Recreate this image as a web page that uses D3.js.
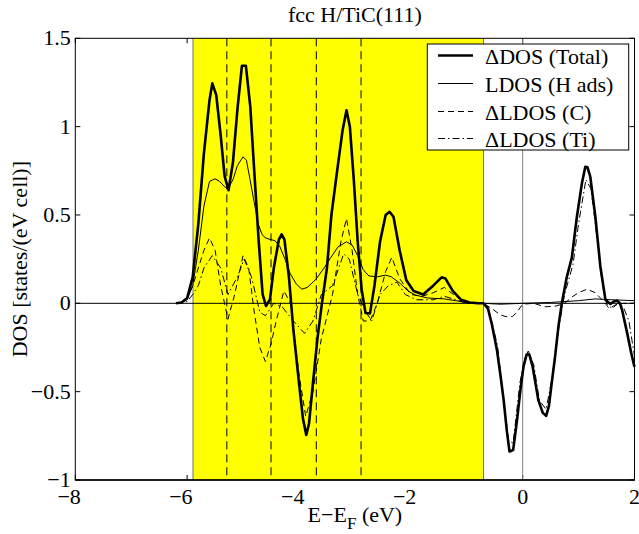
<!DOCTYPE html>
<html>
<head>
<meta charset="utf-8">
<script src="https://cdn.jsdelivr.net/npm/d3@7"></script>
<style>
  html, body { margin: 0; padding: 0; background: #fff; }
  svg text { font-family: "Liberation Serif", "Times New Roman", serif; fill: #000; }
</style>
</head>
<body>
<svg id="chart" width="639" height="534"></svg>
<script>
// ---------------- data ----------------
const title = "fcc H/TiC(111)";
const xTicks = [-8, -6, -4, -2, 0, 2];
const yTicks = [-1, -0.5, 0, 0.5, 1, 1.5];
const xTickLabels = ["\u22128", "\u22126", "\u22124", "\u22122", "0", "2"];
const yTickLabels = ["\u22121", "\u22120.5", "0", "0.5", "1", "1.5"];
const bandRange = [-5.895, -0.70];           // yellow region (eV)
const peakLines = [-5.29, -4.50, -3.69, -2.89]; // dashed vertical markers
const legendLabels = ["\u0394DOS (Total)", "LDOS (H ads)", "\u0394LDOS (C)", "\u0394LDOS (Ti)"];

const totalE = [-6.2,-6.1,-6.0,-5.9,-5.8,-5.7,-5.6,-5.55,-5.48,-5.4,-5.33,-5.26,-5.18,-5.1,-5.02,-4.95,-4.87,-4.8,-4.72,-4.65,-4.59,-4.52,-4.45,-4.36,-4.31,-4.26,-4.18,-4.1,-4.0,-3.93,-3.87,-3.82,-3.75,-3.67,-3.59,-3.5,-3.42,-3.33,-3.22,-3.15,-3.09,-3.02,-2.95,-2.88,-2.81,-2.73,-2.65,-2.55,-2.45,-2.38,-2.31,-2.2,-2.08,-1.95,-1.78,-1.6,-1.45,-1.38,-1.25,-1.1,-0.95,-0.8,-0.7,-0.62,-0.55,-0.46,-0.4,-0.34,-0.28,-0.235,-0.17,-0.1,-0.04,0.015,0.07,0.12,0.18,0.28,0.36,0.42,0.47,0.52,0.58,0.64,0.70,0.79,0.88,0.97,1.06,1.12,1.16,1.21,1.30,1.39,1.48,1.57,1.63,1.69,1.74,1.78,1.87,1.94,2.0];
const totalV = [0,0.005,0.03,0.15,0.45,0.85,1.15,1.245,1.18,0.95,0.72,0.64,0.8,1.1,1.345,1.345,1.11,0.75,0.35,0.05,-0.015,0.02,0.2,0.36,0.39,0.36,0.15,-0.15,-0.45,-0.65,-0.745,-0.68,-0.45,-0.2,0.0,0.2,0.5,0.72,0.98,1.093,1.0,0.7,0.35,0.08,-0.055,-0.057,0.1,0.35,0.5,0.518,0.49,0.3,0.13,0.07,0.05,0.1,0.147,0.14,0.07,0.02,0.005,0.0,0.0,-0.03,-0.12,-0.264,-0.4,-0.547,-0.73,-0.839,-0.83,-0.66,-0.49,-0.358,-0.29,-0.29,-0.36,-0.547,-0.62,-0.637,-0.58,-0.45,-0.3,-0.13,0.0,0.15,0.26,0.49,0.68,0.773,0.77,0.716,0.49,0.207,0.02,-0.004,0.01,0.015,0.0,-0.04,-0.17,-0.28,-0.36];

const hE = [-6.2,-6.1,-6.0,-5.9,-5.8,-5.7,-5.6,-5.5,-5.42,-5.33,-5.27,-5.18,-5.1,-5.0,-4.94,-4.875,-4.8,-4.73,-4.66,-4.6,-4.5,-4.43,-4.34,-4.25,-4.16,-4.05,-3.95,-3.85,-3.7,-3.55,-3.44,-3.3,-3.15,-3.05,-2.95,-2.85,-2.75,-2.6,-2.45,-2.35,-2.19,-2.05,-1.92,-1.7,-1.4,-1.2,-1.0,-0.7,-0.4,0.0,0.5,1.0,1.3,1.6,2.0];
const hV = [0,0.005,0.02,0.1,0.3,0.55,0.69,0.705,0.69,0.66,0.65,0.7,0.78,0.829,0.81,0.70,0.57,0.45,0.39,0.37,0.36,0.355,0.32,0.25,0.17,0.11,0.08,0.09,0.135,0.2,0.255,0.32,0.348,0.33,0.27,0.19,0.155,0.15,0.16,0.15,0.113,0.07,0.047,0.03,0.025,0.015,0.005,0.0,-0.005,0.0,0.005,0.015,0.025,0.02,0.015];

const cE = [-6.2,-6.1,-6.0,-5.9,-5.8,-5.7,-5.6,-5.5,-5.4,-5.27,-5.15,-5.0,-4.9,-4.8,-4.7,-4.6,-4.5,-4.4,-4.27,-4.15,-4.0,-3.88,-3.75,-3.6,-3.4,-3.25,-3.15,-3.05,-2.95,-2.85,-2.73,-2.6,-2.45,-2.34,-2.2,-2.0,-1.8,-1.6,-1.4,-1.2,-1.0,-0.7,-0.55,-0.4,-0.3,-0.18,-0.08,0.0,0.2,0.4,0.6,0.75,0.9,1.0,1.15,1.3,1.45,1.55,1.65,1.8,2.0];
const cV = [0,0.005,0.03,0.1,0.2,0.3,0.37,0.3,0.1,-0.09,0.05,0.27,0.2,-0.05,-0.25,-0.33,-0.23,-0.09,0.07,0.0,-0.4,-0.64,-0.5,-0.2,0.05,0.35,0.48,0.3,0.05,-0.1,-0.1,0.0,0.18,0.26,0.14,0.05,0.04,0.06,0.09,0.04,0.0,0.0,-0.03,-0.065,-0.075,-0.075,-0.04,-0.005,0.0,-0.02,-0.015,0.0,0.04,0.06,0.08,0.06,0.01,-0.03,-0.01,0.0,0.0];

const tiE = [-6.2,-6.1,-6.0,-5.9,-5.8,-5.7,-5.55,-5.4,-5.27,-5.1,-4.98,-4.85,-4.7,-4.6,-4.45,-4.3,-4.1,-3.9,-3.75,-3.6,-3.4,-3.2,-3.1,-2.95,-2.8,-2.7,-2.55,-2.4,-2.25,-2.1,-1.9,-1.6,-1.4,-1.2,-1.0,-0.7,-0.6,-0.45,-0.35,-0.25,-0.17,-0.05,0.05,0.1,0.2,0.3,0.42,0.52,0.65,0.75,0.9,1.0,1.13,1.22,1.3,1.4,1.5,1.6,1.7,1.8,1.9,2.0];
const tiV = [0,0.003,0.01,0.05,0.1,0.2,0.27,0.2,0.05,0.15,0.25,0.15,-0.05,-0.07,0.0,-0.02,-0.1,-0.17,-0.1,0.05,0.1,0.28,0.25,0.05,-0.05,-0.1,0.05,0.1,0.12,0.05,0.02,0.02,0.04,0.02,0.0,0.0,-0.04,-0.24,-0.52,-0.78,-0.79,-0.45,-0.3,-0.27,-0.35,-0.55,-0.6,-0.43,-0.13,0.05,0.22,0.45,0.70,0.65,0.45,0.17,0.0,-0.03,0.0,-0.02,-0.1,-0.3];

// ---------------- layout ----------------
const svg = d3.select("#chart");
const L = 75.3, R = 634.5, T = 38.3, B = 480;
const x = d3.scaleLinear().domain([-8, 2]).range([L, R]);
const y = d3.scaleLinear().domain([-1, 1.5]).range([B, T]);
const fs = 22;

// ticks (under the yellow patch, like MATLAB's bottom layer)
const tk = 5;
const tickG = svg.append("g").attr("stroke", "#000").attr("stroke-width", 1);
xTicks.forEach(v => {
  tickG.append("line").attr("x1", x(v)).attr("x2", x(v)).attr("y1", B).attr("y2", B - tk);
  tickG.append("line").attr("x1", x(v)).attr("x2", x(v)).attr("y1", T).attr("y2", T + tk);
});
yTicks.forEach(v => {
  tickG.append("line").attr("x1", L).attr("x2", L + tk).attr("y1", y(v)).attr("y2", y(v));
  tickG.append("line").attr("x1", R).attr("x2", R - tk).attr("y1", y(v)).attr("y2", y(v));
});

// yellow band
svg.append("rect")
  .attr("x", x(bandRange[0])).attr("y", T)
  .attr("width", x(bandRange[1]) - x(bandRange[0])).attr("height", B - T)
  .attr("fill", "#ffff00");
bandRange.forEach(v => {
  svg.append("line").attr("x1", x(v)).attr("x2", x(v)).attr("y1", T).attr("y2", B)
    .attr("stroke", "#707070").attr("stroke-width", 1);
});

// dashed peak markers
peakLines.forEach(v => {
  svg.append("line").attr("x1", x(v)).attr("x2", x(v)).attr("y1", T).attr("y2", B)
    .attr("stroke", "#000").attr("stroke-width", 1).attr("stroke-dasharray", "8,5");
});

// Fermi level and zero line
svg.append("line").attr("x1", x(0)).attr("x2", x(0)).attr("y1", T).attr("y2", B)
  .attr("stroke", "#808080").attr("stroke-width", 1);
svg.append("line").attr("x1", L).attr("x2", R).attr("y1", y(0)).attr("y2", y(0))
  .attr("stroke", "#000").attr("stroke-width", 1);

// curves
const line = d3.line().x(d => x(d[0])).y(d => y(d[1]));
const zip = (a, b) => a.map((v, i) => [v, b[i]]);
const series = [
  { e: tiE, v: tiV, w: 1, dash: "7,3,1.5,3" },
  { e: cE, v: cV, w: 1, dash: "6,4" },
  { e: hE, v: hV, w: 1, dash: null },
  { e: totalE, v: totalV, w: 2.6, dash: null }
];
series.forEach(s => {
  svg.append("path").datum(zip(s.e, s.v)).attr("d", line)
    .attr("fill", "none").attr("stroke", "#000").attr("stroke-width", s.w)
    .attr("stroke-linejoin", "round")
    .attr("stroke-dasharray", s.dash);
});

// axes box
svg.append("rect").attr("x", L).attr("y", T).attr("width", R - L).attr("height", B - T)
  .attr("fill", "none").attr("stroke", "#000").attr("stroke-width", 1);
svg.append("line").attr("x1", L).attr("x2", R).attr("y1", B).attr("y2", B)
  .attr("stroke", "#000").attr("stroke-width", 1.6);

// tick labels
xTicks.forEach((v, i) => {
  svg.append("text").attr("x", x(v) + 5.5).attr("y", 504)
    .attr("text-anchor", "end").attr("font-size", fs).text(xTickLabels[i]);
});
yTicks.forEach((v, i) => {
  svg.append("text").attr("x", 70.7).attr("y", y(v) + 7)
    .attr("text-anchor", "end").attr("font-size", fs).text(yTickLabels[i]);
});

// title
svg.append("text").attr("x", (L + R) / 2).attr("y", 22).attr("text-anchor", "middle")
  .attr("font-size", fs).text(title);

// x label
const xl = svg.append("text").attr("x", (L + R) / 2).attr("y", 522)
  .attr("text-anchor", "middle").attr("font-size", fs);
xl.append("tspan").text("E\u2212E");
xl.append("tspan").attr("dy", 7).attr("font-size", 17).text("F");
xl.append("tspan").attr("dy", -7).text(" (eV)");

// y label
svg.append("text").attr("transform", `translate(27,${(T + B) / 2}) rotate(-90)`)
  .attr("text-anchor", "middle").attr("font-size", fs).text("DOS [states/(eV cell)]");

// legend
const lg = svg.append("g");
lg.append("rect").attr("x", 427.3).attr("y", 44).attr("width", 201.4).attr("height", 106)
  .attr("fill", "#fff").attr("stroke", "#000").attr("stroke-width", 1);
const legStyles = [
  { w: 2.6, dash: null }, { w: 1, dash: null }, { w: 1, dash: "6,4" }, { w: 1, dash: "7,3,1.5,3" }
];
const rowY = [55.5, 83.5, 111.5, 138.5];
legendLabels.forEach((lab, i) => {
  lg.append("line").attr("x1", 438).attr("x2", 473).attr("y1", rowY[i]).attr("y2", rowY[i])
    .attr("stroke", "#000").attr("stroke-width", legStyles[i].w)
    .attr("stroke-dasharray", legStyles[i].dash);
  lg.append("text").attr("x", 485).attr("y", rowY[i] + 8).attr("font-size", fs).text(lab);
});
</script>
</body>
</html>
